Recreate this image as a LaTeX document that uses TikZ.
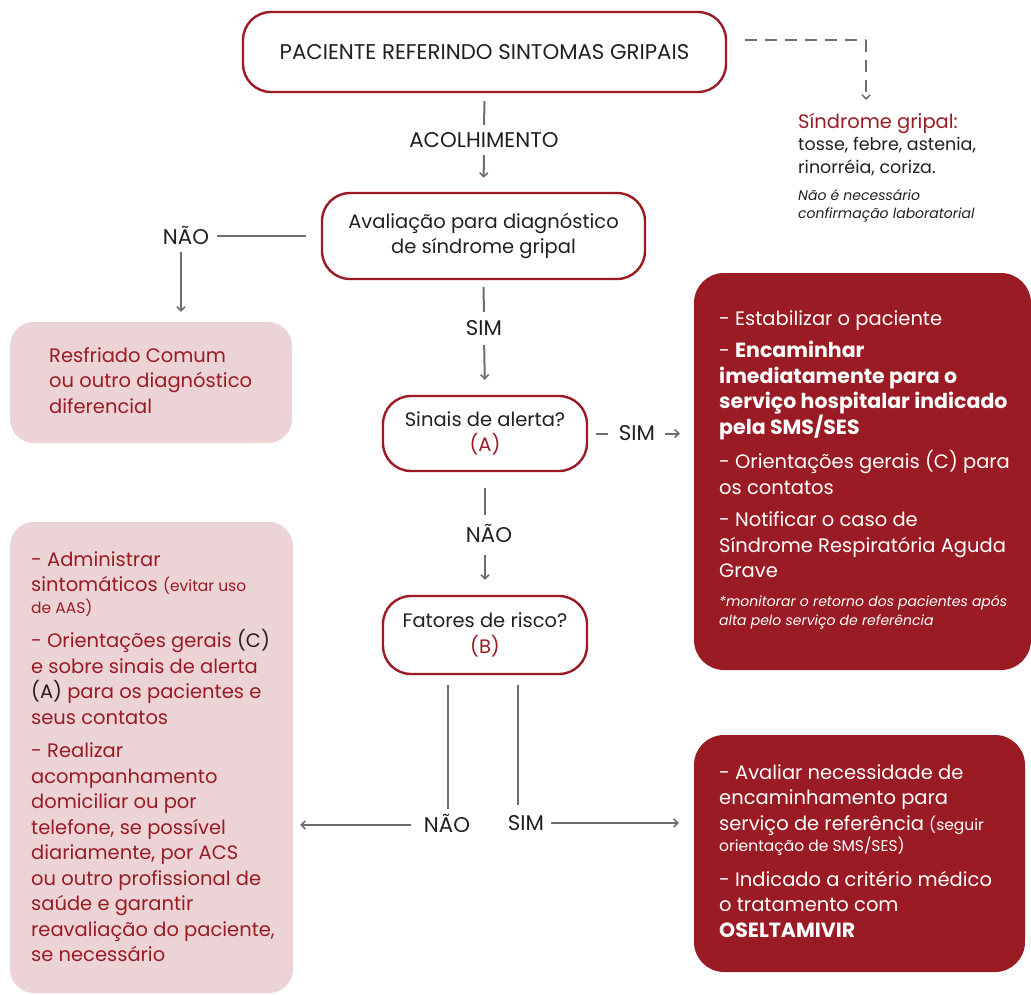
\documentclass[tikz,border=0pt]{standalone}
\usepackage{fontspec}
\setmainfont{Poppins}
\usetikzlibrary{arrows.meta}
\definecolor{dred}{RGB}{155,27,36}
\definecolor{pinkf}{RGB}{235,211,214}
\definecolor{lgray}{RGB}{109,110,113}
\definecolor{ink}{RGB}{35,31,32}
\newcommand\myfnt{\fontsize{19.5}{25.5}\selectfont}
\newcommand\capfnt{\fontsize{21.3}{25.5}\selectfont}
\newcommand\mysmall{\fontsize{15.5}{25.5}\selectfont}
\newcommand\mybold[1]{{\fontsize{20.5}{25.5}\selectfont\bfseries #1}}
\begin{document}
\begin{tikzpicture}[x=1pt,y=-1pt,
  box/.style={draw=dred, line width=2.4pt, fill=white, rounded corners=28pt, inner sep=0pt, align=center, font=\myfnt, text=ink},
  pbox/.style={fill=pinkf, rounded corners=24pt, inner sep=0pt},
  rbox/.style={fill=dred, rounded corners=30pt, inner sep=0pt},
  lab/.style={font=\capfnt, text=ink, inner sep=0pt, text height=14pt, text depth=0pt},
  conn/.style={draw=lgray, line width=2pt},
  arr/.style={conn, -{Straight Barb[length=4pt,width=8pt,line width=1.6pt]}},
  txt/.style={inner sep=0pt, anchor=north west, align=left, font=\myfnt}
]
\useasboundingbox (0,0) rectangle (1031,994);

% boxes
\node[box, minimum width=483pt, minimum height=80pt, font=\capfnt] (b1) at (484.5,52) {PACIENTE REFERINDO SINTOMAS GRIPAIS};
\node[box, minimum width=323pt, minimum height=86pt] (b2) at (483.5,236) {Avaliação para diagnóstico\\de síndrome gripal};
\node[box, minimum width=204pt, minimum height=75pt] (b3) at (485,433.5) {Sinais de alerta?\\\textcolor{dred}{(A)}};
\node[box, minimum width=204pt, minimum height=78pt] (b4) at (485,635) {Fatores de risco?\\\textcolor{dred}{(B)}};

\node[pbox, minimum width=282pt, minimum height=121pt] (p1) at (151,382.5) {};
\node[pbox, minimum width=283pt, minimum height=471pt] (p2) at (151.5,757.5) {};
\node[rbox, minimum width=337pt, minimum height=397pt] (r1) at (862.5,471.5) {};
\node[rbox, minimum width=331pt, minimum height=237pt] (r2) at (859.5,853.5) {};

% side note
\node[txt, text=ink, font=\fontsize{17.5}{22.5}\selectfont] (sg) at (798,113) {\textcolor{dred}{\fontsize{19.5}{22.5}\selectfont Síndrome gripal:}\\tosse, febre, astenia,\\rinorréia, coriza.};
\node[txt, text=ink, font=\fontsize{14}{18.7}\selectfont\itshape] (sgn) at (798,189) {Não é necessário\\confirmação laboratorial};
\coordinate (dcorner) at (866,40);

% labels
\node[lab] (acol) at (484,140) {ACOLHIMENTO};
\node[lab] (nao1) at (186,237) {NÃO};
\node[lab] (sim1) at (484,328) {SIM};
\node[lab] (sim2) at (637,433) {SIM};
\node[lab] (nao2) at (489,535) {NÃO};
\node[lab] (nao3) at (447,825) {NÃO};
\node[lab] (sim3) at (526,823) {SIM};

% texts in pink boxes
\node[txt, text=dred] (p1t) at (49,347) {Resfriado Comum\\ou outro diagnóstico\\diferencial};
\node[txt, text=dred] (p2t) at (31,551) {- Administrar\\sintomáticos {\mysmall(evitar uso}\\[-4pt]{\mysmall de AAS)}\\[9pt]
- Orientações gerais \textcolor{ink}{(C)}\\e sobre sinais de alerta\\\textcolor{ink}{(A)} para os pacientes e\\seus contatos\\[8pt]
- Realizar\\acompanhamento\\domiciliar ou por\\telefone, se possível\\diariamente, por ACS\\ou outro profissional de\\saúde e garantir\\reavaliação do paciente,\\se necessário};

% texts in red boxes
\node[txt, text=white] (r1t) at (719,310) {- Estabilizar o paciente\\[7pt]
- \mybold{Encaminhar}\\\mybold{imediatamente para o}\\\mybold{serviço hospitalar indicado}\\\mybold{pela SMS/SES}\\[9pt]
- Orientações gerais (C) para\\os contatos\\[7pt]
- Notificar o caso de\\Síndrome Respiratória Aguda\\Grave};
\node[txt, text=white, font=\fontsize{14}{19}\selectfont\itshape] (r1n) at (719,595) {*monitorar o retorno dos pacientes após\\alta pelo serviço de referência};
\node[txt, text=white] (r2t) at (719,764) {- Avaliar necessidade de\\encaminhamento para\\serviço de referência {\mysmall(seguir}\\[-4pt]{\mysmall orientação de SMS/SES)}\\[9pt]
- Indicado a critério médico\\o tratamento com\\\mybold{OSELTAMIVIR}};

% connectors
\draw[conn, dash pattern=on 12pt off 8pt] ([xshift=18pt]b1.east |- dcorner) -- (dcorner);
\draw[arr, dash pattern=on 12pt off 8pt] (dcorner) -- ([yshift=13pt]sg.north -| dcorner);
\draw[conn, shorten <=8pt, shorten >=8pt] (b1.south) -- (acol.north);
\draw[arr, shorten <=8pt, shorten >=14pt] (acol.south) -- (b2.north);
\draw[conn, shorten <=15pt, shorten >=8pt] (b2.west) -- (b2.west -| nao1.east);
\draw[arr, shorten <=8pt, shorten >=10pt] ([xshift=-5pt]nao1.south) -- ([xshift=-5pt]nao1.south |- p1.north);
\draw[conn, shorten <=7pt, shorten >=9pt] (b2.south) -- (sim1.north);
\draw[arr, shorten <=10pt, shorten >=15pt] (sim1.south) -- (b3.north);
\draw[conn, shorten <=8pt, shorten >=11pt] (b3.east) -- (b3.east -| sim2.west);
\draw[arr, shorten <=10pt, shorten >=14pt] (sim2.east |- b3.east) -- (b3.east -| r1.west);
\draw[conn, shorten <=16pt, shorten >=13pt] (b3.south) -- (b3.south |- nao2.north);
\draw[arr, shorten <=13pt, shorten >=15pt] (b3.south |- nao2.south) -- (b4.north);
\draw[conn, shorten <=10pt, shorten >=9pt] ([xshift=-37pt]b4.south) -- ([xshift=-37pt]b4.south |- nao3.north);
\draw[conn, shorten <=10pt, shorten >=11pt] ([xshift=33pt]b4.south) -- ([xshift=33pt]b4.south |- sim3.north);
\draw[arr, shorten <=13pt, shorten >=7pt] (nao3.west) -- (nao3.west -| p2.east);
\draw[arr, shorten <=7pt, shorten >=15pt] (sim3.east) -- (sim3.east -| r2.west);
\end{tikzpicture}
\end{document}
